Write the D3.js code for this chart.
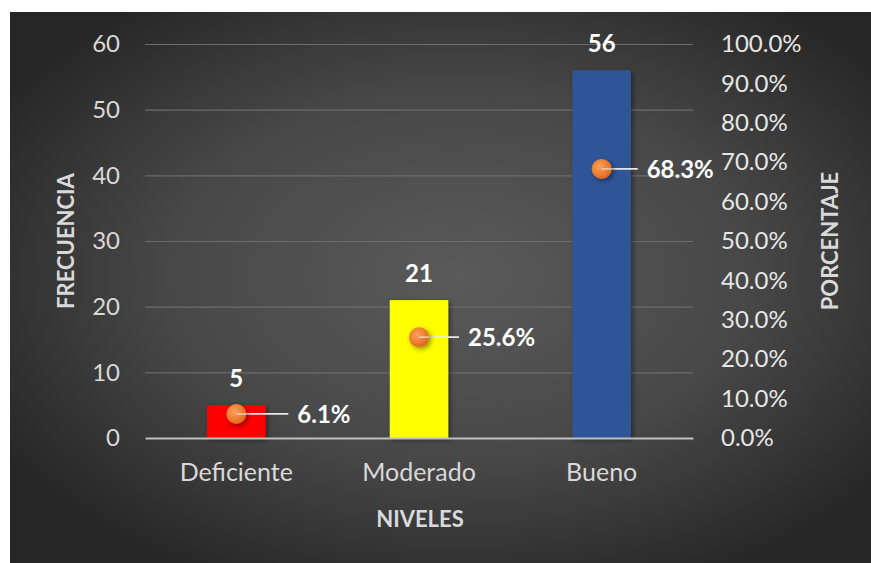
<!DOCTYPE html>
<html>
<head>
<meta charset="utf-8">
<script src="https://cdn.jsdelivr.net/npm/d3@7"></script>
<style>
  html, body { margin: 0; padding: 0; background: #ffffff; }
  svg { display: block; }
  text { font-family: Lato, "Open Sans", sans-serif; }
</style>
</head>
<body>
<svg id="chart" width="871" height="563"></svg>
<script>
// Niveles y su frecuencia / porcentaje
const categories = ["Deficiente", "Moderado", "Bueno"];
const frequencies = [5, 21, 56];
const percentages = [6.1, 25.6, 68.3];
const barColors = ["#ff0000", "#ffff00", "#2f5597"];
const freqTicks = [0, 10, 20, 30, 40, 50, 60];
const pctTicks = [0, 10, 20, 30, 40, 50, 60, 70, 80, 90, 100];

// horizontal distance from a point to the start of its percentage label
const labelGap = [61, 49, 45];

const W = 871, H = 563;
const panel = { x: 10, y: 12 };
const plot = { left: 145, right: 693, top: 44, bottom: 438 };
const FONT = "Lato, 'Open Sans', sans-serif";

const svg = d3.select("#chart");
const defs = svg.append("defs");

// dark panel with a soft centred highlight
const bg = defs.append("radialGradient").attr("id", "bgGrad")
  .attr("cx", "52%").attr("cy", "48%").attr("r", "62%");
bg.append("stop").attr("offset", "0%").attr("stop-color", "#5a5a5a");
bg.append("stop").attr("offset", "55%").attr("stop-color", "#474747");
bg.append("stop").attr("offset", "100%").attr("stop-color", "#262626");

const dot = defs.append("radialGradient").attr("id", "dotGrad")
  .attr("cx", "40%").attr("cy", "38%").attr("r", "65%");
dot.append("stop").attr("offset", "0%").attr("stop-color", "#f6a25e");
dot.append("stop").attr("offset", "60%").attr("stop-color", "#ee7f33");
dot.append("stop").attr("offset", "100%").attr("stop-color", "#d8661e");

const shadow = defs.append("filter").attr("id", "shadow")
  .attr("x", "-30%").attr("y", "-30%").attr("width", "160%").attr("height", "160%");
shadow.append("feDropShadow").attr("dx", 2).attr("dy", 2).attr("stdDeviation", 2.5)
  .attr("flood-color", "#000").attr("flood-opacity", 0.45);

svg.append("rect")
  .attr("x", panel.x).attr("y", panel.y)
  .attr("width", W - panel.x).attr("height", H - panel.y)
  .attr("fill", "url(#bgGrad)");

const x = d3.scaleBand().domain(categories)
  .range([plot.left, plot.right]).paddingInner(0.68).paddingOuter(0.34);
const yF = d3.scaleLinear().domain([0, 60]).range([plot.bottom, plot.top]);
const yP = d3.scaleLinear().domain([0, 100]).range([plot.bottom, plot.top]);

// gridlines
svg.append("g")
  .attr("transform", `translate(${plot.left},0)`)
  .call(d3.axisLeft(yF).tickValues(freqTicks.filter(d => d > 0))
    .tickSize(-(plot.right - plot.left)).tickFormat(""))
  .call(g => g.select(".domain").remove())
  .call(g => g.selectAll("line").attr("stroke", "#6c6c6c").attr("stroke-width", 1.2));

// left axis labels
svg.append("g")
  .attr("transform", `translate(${plot.left},0)`)
  .call(d3.axisLeft(yF).tickValues(freqTicks).tickSize(0).tickPadding(25))
  .call(g => g.select(".domain").remove())
  .call(g => g.selectAll("text")
    .attr("fill", "#d9d9d9").attr("font-size", 24).style("font-family", FONT));

// right axis labels
svg.append("g")
  .attr("transform", `translate(${plot.right},0)`)
  .call(d3.axisRight(yP).tickValues(pctTicks).tickSize(0).tickPadding(28)
    .tickFormat(d => d3.format(".1f")(d) + "%"))
  .call(g => g.select(".domain").remove())
  .call(g => g.selectAll("text")
    .attr("fill", "#e6e6e6").attr("font-size", 24).style("font-family", FONT));

// bars
svg.append("g").selectAll("rect")
  .data(categories)
  .join("rect")
  .attr("x", d => x(d))
  .attr("y", (d, i) => yF(frequencies[i]))
  .attr("width", x.bandwidth())
  .attr("height", (d, i) => yF(0) - yF(frequencies[i]))
  .attr("fill", (d, i) => barColors[i])
  .attr("filter", "url(#shadow)");

// category axis
svg.append("g")
  .attr("transform", `translate(0,${plot.bottom})`)
  .call(d3.axisBottom(x).tickSize(0).tickPadding(25))
  .call(g => g.select(".domain").attr("stroke", "#bfbfbf").attr("stroke-width", 2.2))
  .call(g => g.selectAll("text")
    .attr("fill", "#d9d9d9").attr("font-size", 25).style("font-family", FONT));

// frequency value labels
svg.append("g").selectAll("text")
  .data(categories)
  .join("text")
  .attr("x", d => x(d) + x.bandwidth() / 2)
  .attr("y", (d, i) => yF(frequencies[i]) - 18)
  .attr("text-anchor", "middle")
  .attr("fill", "#ffffff").attr("font-weight", "bold").attr("font-size", 24)
  .text((d, i) => frequencies[i]);

// percentage points, leader lines and labels
const pts = svg.append("g");
categories.forEach((c, i) => {
  const cx = x(c) + x.bandwidth() / 2;
  const cy = yP(percentages[i]);
  pts.append("line")
    .attr("x1", cx).attr("x2", cx + labelGap[i] - 9)
    .attr("y1", cy).attr("y2", cy)
    .attr("stroke", "#e8e8e8").attr("stroke-width", 1.8);
  pts.append("circle")
    .attr("cx", cx).attr("cy", cy).attr("r", 10)
    .attr("fill", "url(#dotGrad)")
    .attr("filter", "url(#shadow)");
  pts.append("line")
    .attr("x1", cx).attr("x2", cx + 10)
    .attr("y1", cy).attr("y2", cy)
    .attr("stroke", "#e8e8e8").attr("stroke-width", 1.4).attr("opacity", 0.8);
  pts.append("text")
    .attr("x", cx + labelGap[i]).attr("y", cy)
    .attr("dy", "0.36em")
    .attr("fill", "#ffffff").attr("font-weight", "bold").attr("font-size", 24)
    .text(d3.format(".1f")(percentages[i]) + "%");
});

// axis titles
svg.append("text")
  .attr("x", (plot.left + plot.right) / 2 + 1).attr("y", 527)
  .attr("text-anchor", "middle")
  .attr("fill", "#d9d9d9").attr("font-weight", "bold").attr("font-size", 22)
  .text("NIVELES");

svg.append("text")
  .attr("transform", `translate(74,${(plot.top + plot.bottom) / 2}) rotate(-90)`)
  .attr("text-anchor", "middle")
  .attr("fill", "#d9d9d9").attr("font-weight", "bold").attr("font-size", 22)
  .text("FRECUENCIA");

svg.append("text")
  .attr("transform", `translate(838,${(plot.top + plot.bottom) / 2}) rotate(-90)`)
  .attr("text-anchor", "middle")
  .attr("fill", "#d9d9d9").attr("font-weight", "bold").attr("font-size", 22)
  .text("PORCENTAJE");
</script>
</body>
</html>
